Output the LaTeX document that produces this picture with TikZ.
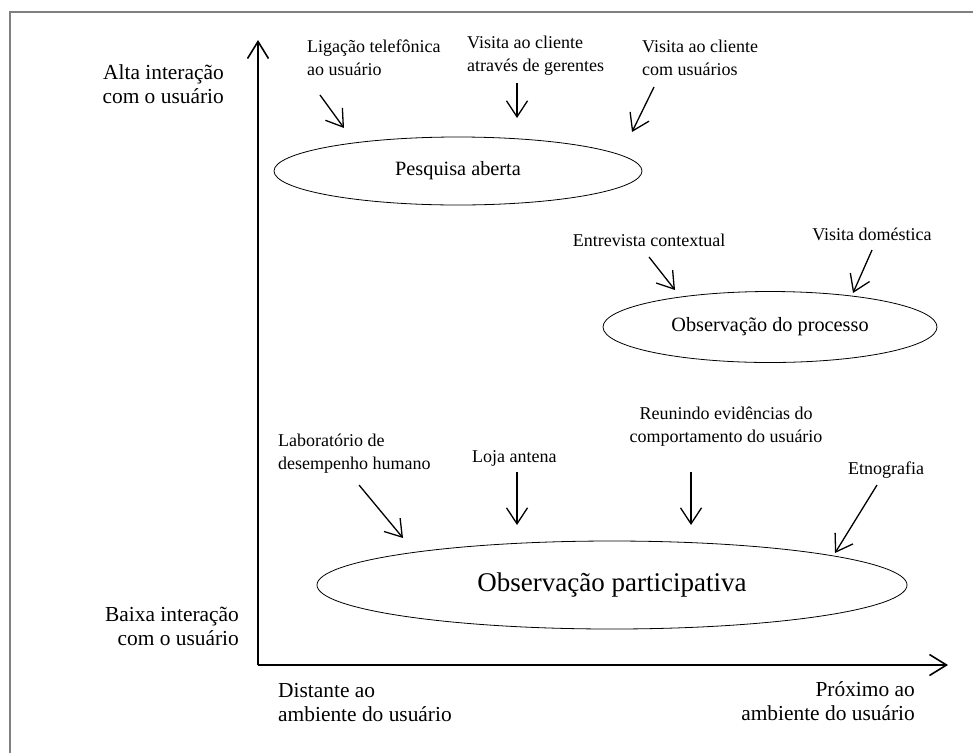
\documentclass[tikz,border=0pt]{standalone}
\usepackage{fontspec}
\setmainfont{Liberation Serif}
\usetikzlibrary{arrows.meta,shapes.geometric}
\definecolor{MolduraCinza}{HTML}{808080}
\newcommand{\rotuloPeq}{\fontsize{18}{23}\selectfont}
\newcommand{\rotuloEixo}{\fontsize{21.4}{24}\selectfont}
\newcommand{\rotuloBolha}{\fontsize{20.3}{24}\selectfont}
\newcommand{\rotuloGrande}{\fontsize{27}{30}\selectfont}

\begin{document}
\begin{tikzpicture}[x=1pt,y=-1pt,
  eixo/.style={line width=1.6pt,-{Straight Barb[length=17pt,width=21pt]}},
  seta/.style={line width=1.3pt,-{Straight Barb[length=16pt,width=21pt]}},
  bolha/.style={draw,ellipse,line width=0.8pt,inner sep=0pt},
  txt/.style={inner sep=0pt,font=\rotuloPeq},
  txteixo/.style={inner sep=0pt,font=\rotuloEixo}]
  \useasboundingbox (0,0) rectangle (973,753);
  \draw[MolduraCinza,line width=2pt] (10,753) -- (10,12) -- (973,12);
  % eixos
  \coordinate (O) at (258,665);
  \coordinate (ytip) at (258,40);
  \coordinate (xtip) at (948,665);
  \draw[eixo] (O) -- (ytip);
  \draw[eixo] (O) -- (xtip);
  \node[txteixo,anchor=east,align=right] (alta) at (224,84) {Alta interação\\com o usuário};
  \node[txteixo,anchor=east,align=right] (baixa) at (239,626) {Baixa interação\\com o usuário};
  \node[txteixo,anchor=west,align=left] (dist) at (278,703) {Distante ao\\ambiente do usuário};
  \node[txteixo,anchor=east,align=right] (prox) at (915,701) {Próximo ao\\ambiente do usuário};
  % elipses
  \node[bolha,minimum width=368,minimum height=68,font=\rotuloBolha] (pesq) at (458,171) {Pesquisa aberta};
  \node[bolha,minimum width=334,minimum height=71,font=\rotuloBolha] (proc) at (770,327) {Observação do processo};
  \node[bolha,minimum width=590,minimum height=88,font=\rotuloGrande] (part) at (612,585) {Observação participativa};
  % rotulos de cima
  \node[txt,anchor=west,align=left] (lig) at (307,58) {Ligação telefônica\\ao usuário};
  \node[txt,anchor=west,align=left] (ger) at (467,56) {Visita ao cliente\\através de gerentes};
  \node[txt,anchor=west,align=left] (usu) at (642,58) {Visita ao cliente\\com usuários};
  \node[txt] (entr) at (649,240) {Entrevista contextual};
  \node[txt] (dom) at (872,234) {Visita doméstica};
  \node[txt,anchor=west,align=left] (lab) at (278,454) {Laboratório de\\desempenho humano};
  \node[txt,anchor=west] (loja) at (472,458) {Loja antena};
  \node[txt,align=center] (reun) at (726,427) {Reunindo evidências do\\comportamento do usuário};
  \node[txt,anchor=west] (etno) at (848,470) {Etnografia};
  % setas
  \coordinate (lig0) at (320,95);   \coordinate (lig1) at (344,128);
  \coordinate (ger0) at (517,83);   \coordinate (ger1) at (517,118);
  \coordinate (usu0) at (654,87);   \coordinate (usu1) at (632,132);
  \coordinate (entr0) at (649,257); \coordinate (entr1) at (675,290);
  \coordinate (dom0) at (872,250);  \coordinate (dom1) at (853,293);
  \coordinate (lab0) at (359,485);  \coordinate (lab1) at (403,538);
  \coordinate (loja0) at (517,472); \coordinate (loja1) at (517,525);
  \coordinate (reun0) at (691,472); \coordinate (reun1) at (691,525);
  \coordinate (etno0) at (877,485); \coordinate (etno1) at (835,553);
  \foreach \s in {lig,ger,usu,entr,dom,lab,loja,reun,etno}
    \draw[seta] (\s0) -- (\s1);
\end{tikzpicture}
\end{document}
